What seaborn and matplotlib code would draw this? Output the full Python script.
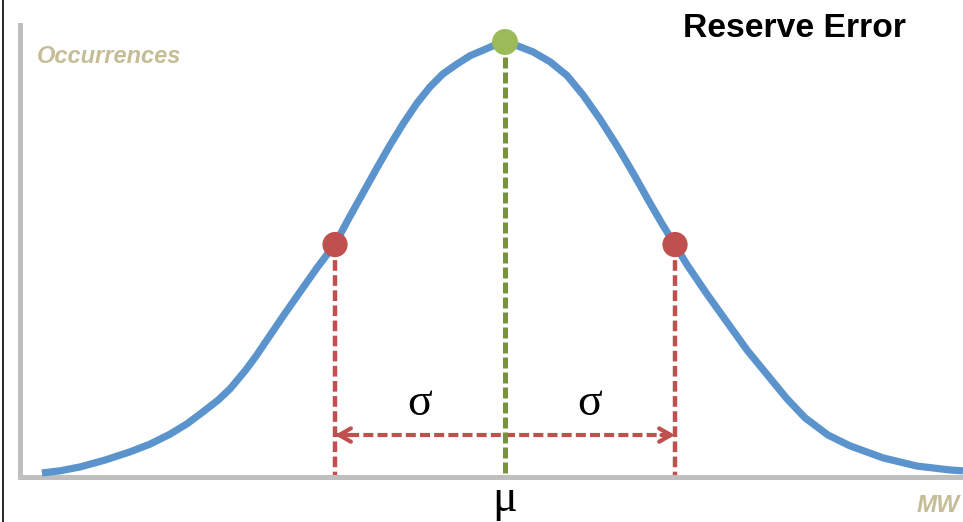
import numpy as np
import pandas as pd
import matplotlib
matplotlib.use("Agg")
import matplotlib.pyplot as plt
from matplotlib.lines import Line2D
import seaborn as sns

# curve: x in sigma units from the mean, y as share of the peak
curve_x = [-2.724, -2.618, -2.500, -2.353, -2.206, -2.088, -1.971, -1.871, -1.776, -1.688,
           -1.618, -1.529, -1.465, -1.400, -1.300, -1.206, -1.106, -1.000, -0.924, -0.835,
           -0.753, -0.676, -0.600, -0.518, -0.441, -0.365, -0.282, -0.206, -0.129, -0.059,
           0.000, 0.047, 0.165, 0.265, 0.365, 0.459, 0.559, 0.659, 0.753, 0.853,
           0.924, 1.000, 1.071, 1.188, 1.306, 1.424, 1.559, 1.659, 1.765, 1.900,
           2.029, 2.224, 2.424, 2.618, 2.694]
curve_y = [0.000, 0.005, 0.014, 0.030, 0.049, 0.067, 0.090, 0.114, 0.142, 0.169,
           0.195, 0.237, 0.271, 0.309, 0.367, 0.420, 0.476, 0.531, 0.587, 0.650,
           0.708, 0.761, 0.810, 0.858, 0.896, 0.926, 0.949, 0.968, 0.981, 0.993,
           1.000, 0.995, 0.977, 0.954, 0.922, 0.877, 0.821, 0.759, 0.696, 0.626,
           0.578, 0.529, 0.483, 0.415, 0.350, 0.285, 0.220, 0.172, 0.128, 0.088,
           0.063, 0.035, 0.016, 0.007, 0.005]

mean_x, mean_y = 0.0, 1.0
sigma_x = [-1.0, 1.0]
sigma_y = [0.53, 0.53]

title = "Reserve Error"
y_label = "Occurrences"
x_label = "MW"

blue = "#5b94cc"
green_dot = "#9bbb59"
green_line = "#77933c"
red = "#c0504d"
tan = "#c4bd97"
grey = "#bfbfbf"

sns.set_theme(style="white")
plt.rcParams['font.family'] = ['Liberation Sans', 'DejaVu Sans']

fig = plt.figure(figsize=(9.63, 5.22), dpi=100)
ax = fig.add_axes([20 / 963, 45 / 522, 943 / 963, 452 / 522])
ax.set_xlim(-2.853, 2.694)
ax.set_ylim(-0.0093, 1.0394)

df = pd.DataFrame({'x': curve_x, 'y': curve_y})
sns.lineplot(data=df, x='x', y='y', ax=ax, color=blue, lw=5.2,
             estimator=None, sort=False, zorder=3, clip_on=False,
             solid_joinstyle='round', solid_capstyle='butt')

base = -0.0093
# green dashed line from the peak
ax.plot([mean_x, mean_x], [mean_y, base], color=green_line, lw=3.6,
        dashes=(2.2, 0.8), zorder=4)
# red dashed lines at +/- sigma
for sx, sy in zip(sigma_x, sigma_y):
    ax.plot([sx, sx], [sy, base], color=red, lw=3.2, dashes=(2.4, 1.0), zorder=2)

arrow_y = 0.088
ax.plot(sigma_x, [arrow_y, arrow_y], color=red, lw=3.0, dashes=(2.4, 1.0), zorder=2)
for tip, tail in [(sigma_x[0], sigma_x[0] + 0.08), (sigma_x[1], sigma_x[1] - 0.08)]:
    ax.annotate('', xy=(tip, arrow_y), xytext=(tail, arrow_y),
                arrowprops=dict(arrowstyle='->,head_length=0.7,head_width=0.4',
                                color=red, lw=3.0, shrinkA=0, shrinkB=0), zorder=2)

sns.scatterplot(x=[mean_x], y=[mean_y], ax=ax, color=green_dot, s=350,
                edgecolor='none', zorder=5, clip_on=False)
sns.scatterplot(x=sigma_x, y=sigma_y, ax=ax, color=red, s=330,
                edgecolor='none', zorder=5, clip_on=False)

ax.text((sigma_x[0] + mean_x) / 2, 0.16, "σ", family='Liberation Serif',
        fontsize=33, ha='center', va='center', color='black')
ax.text((sigma_x[1] + mean_x) / 2, 0.16, "σ", family='Liberation Serif',
        fontsize=33, ha='center', va='center', color='black')

ax.set_xticks([])
ax.set_yticks([])
ax.set_xlabel('')
ax.set_ylabel('')
for s in ['top', 'right']:
    ax.spines[s].set_visible(False)
for s in ['left', 'bottom']:
    ax.spines[s].set_color(grey)
    ax.spines[s].set_linewidth(3.6)

fig.text(505 / 963, 1 - 511 / 522, "μ", family='Liberation Serif', fontsize=33,
         ha='center', va='baseline', color='black')
fig.text(37 / 963, 1 - 63 / 522, y_label, fontsize=17, fontweight='bold',
         style='italic', color=tan, ha='left', va='baseline')
fig.text(917 / 963, 1 - 512 / 522, x_label, fontsize=17.5, fontweight='bold',
         style='italic', color=tan, ha='left', va='baseline')
fig.text(683 / 963, 1 - 37 / 522, title, fontsize=24.2, fontweight='bold',
         color='black', ha='left', va='baseline')

fig.add_artist(Line2D([2.5 / 963, 2.5 / 963], [0, 1], color='black', lw=1.2,
                      transform=fig.transFigure))

fig.savefig("out.png", dpi=100)
